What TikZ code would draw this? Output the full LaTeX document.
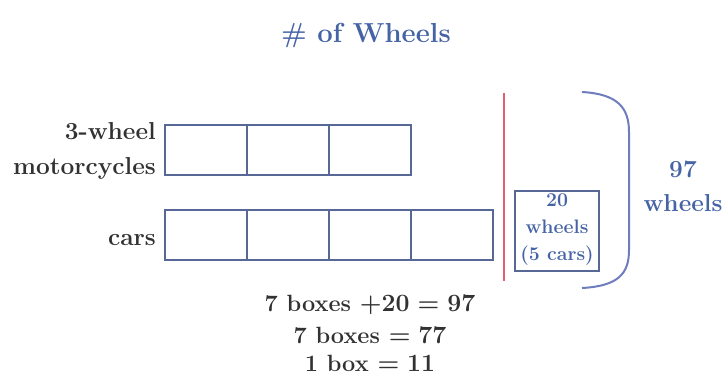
\documentclass[tikz,border=0pt]{standalone}
\usepackage{tikz}
\definecolor{boxcol}{RGB}{88,104,150}
\definecolor{titlecol}{RGB}{70,100,165}
\definecolor{redline}{RGB}{225,95,115}
\definecolor{bracecol}{RGB}{110,125,190}
\definecolor{txt}{RGB}{50,50,50}
\tikzset{
  cell/.style={draw=boxcol, line width=2.4pt, minimum width=82pt, minimum height=50pt, inner sep=0pt},
  lab/.style={text=txt, font=\fontsize{24.5}{35}\selectfont\bfseries, align=right, inner sep=0pt},
  eqn/.style={text=txt, font=\fontsize{23.5}{28}\selectfont\bfseries\boldmath, inner sep=0pt},
  bluetxt/.style={text=titlecol, font=\fontsize{24.5}{34}\selectfont\bfseries, align=center, inner sep=0pt},
}
\begin{document}
\begin{tikzpicture}[x=1pt,y=-1pt]
\useasboundingbox (0,0) rectangle (723,378);
% title
\node[text=titlecol, font=\fontsize{27.5}{30}\selectfont\bfseries, inner sep=0pt] (title) at (366,36) {\# of Wheels};
% top row
\node[cell] (m1) at (206,150) {};
\node[cell] (m2) at (288,150) {};
\node[cell] (m3) at (370,150) {};
% bottom row
\node[cell] (c1) at (206,235) {};
\node[cell] (c2) at (288,235) {};
\node[cell] (c3) at (370,235) {};
\node[cell] (c4) at (452,235) {};
% labels
\node[lab, anchor=east] (lm) at (156,151) {3-wheel\\motorcycles};
\node[lab, anchor=east] (lc) at (156,240) {cars};
% red line
\coordinate (r1) at (504,93);
\coordinate (r2) at (504,281);
\draw[redline, line width=2pt] (r1) -- (r2);
% small box
\node[draw=boxcol, line width=2pt, minimum width=84pt, minimum height=80pt, inner sep=0pt] (sb) at (557,231) {};
\node[text=titlecol, font=\fontsize{19.5}{27}\selectfont\bfseries, align=center, inner sep=0pt] (sbt) at (557,230) {20\\wheels\\(5 cars)};
% bracket
\coordinate (b1) at (582,92);
\coordinate (b2) at (582,288);
\draw[bracecol, line width=2pt] (b1) .. controls (618,94) and (629,108) .. (629,132) -- (629,250) .. controls (629,274) and (618,286) .. (b2);
% 97 wheels
\node[bluetxt] (tot) at (683,186) {97\\wheels};
% equations
\node[eqn] (e1) at (370,305) {7 boxes $+20 = 97$};
\node[eqn] (e2) at (370,335) {7 boxes $= 77$};
\node[eqn] (e3) at (370,363) {1 box $= 11$};
\end{tikzpicture}
\end{document}
